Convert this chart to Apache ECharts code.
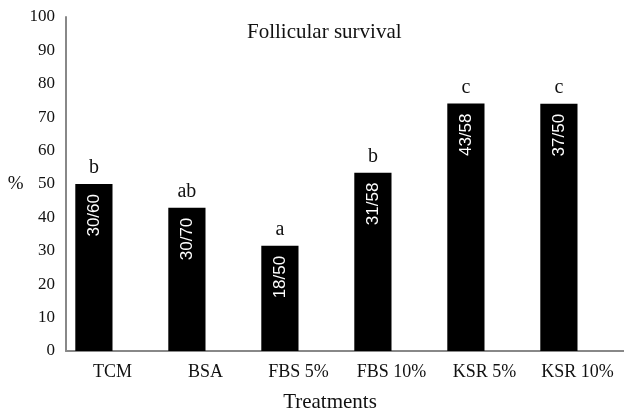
<!DOCTYPE html>
<html style="height: 100%">
<head>
  <meta charset="utf-8">
</head>
<body style="height: 100%; margin: 0">
  <div id="container" style="width: 624px; height: 414px"></div>
  <script src="https://cdn.jsdelivr.net/npm/echarts@6/dist/echarts.min.js"></script>
  <script type="text/javascript">
    // 数据
    var treatments = ['TCM', 'BSA', 'FBS 5%', 'FBS 10%', 'KSR 5%', 'KSR 10%'];
    var survival = [50, 42.9, 31.5, 53.4, 74.1, 74];
    var fractions = ['30/60', '30/70', '18/50', '31/58', '43/58', '37/50'];
    var letters = ['b', 'ab', 'a', 'b', 'c', 'c'];
    var yTicks = [0, 10, 20, 30, 40, 50, 60, 70, 80, 90, 100];

    var serif = 'Liberation Serif';
    var dom = document.getElementById('container');
    var myChart = echarts.init(dom);

    var option = {
      animation: false,
      title: {
        text: 'Follicular survival',
        left: 242,
        top: 17,
        textStyle: { fontFamily: serif, fontSize: 21, fontWeight: 'normal', color: '#111' }
      },
      grid: {
        left: 66,
        right: 0,
        top: 17,
        bottom: 63,
        outerBoundsMode: 'none'
      },
      xAxis: {
        type: 'category',
        data: treatments,
        axisLine: { lineStyle: { color: '#888', width: 2 } },
        axisTick: { show: false },
        axisLabel: { interval: 0, fontFamily: serif, fontSize: 18, color: '#111', margin: 12 },
        name: 'Treatments',
        nameLocation: 'middle',
        nameGap: 41,
        nameTextStyle: { fontFamily: serif, fontSize: 21, color: '#111', padding: [0, 30, 0, 0] }
      },
      yAxis: {
        type: 'value',
        min: yTicks[0],
        max: yTicks[yTicks.length - 1],
        interval: 10,
        splitLine: { show: false },
        axisLine: { show: true, lineStyle: { color: '#888', width: 2 } },
        axisTick: { show: false },
        axisLabel: { fontFamily: serif, fontSize: 17, color: '#111', margin: 11 },
        name: '%',
        nameLocation: 'middle',
        nameRotate: 0,
        nameGap: 42,
        nameTextStyle: { fontFamily: serif, fontSize: 19, color: '#111' }
      },
      series: [
        {
          type: 'bar',
          stack: 's',
          barGap: '0%',
          barCategoryGap: '20%',
          data: survival,
          itemStyle: { color: '#000' },
          label: {
            show: true,
            position: 'insideTop',
            distance: 10,
            rotate: 90,
            align: 'right',
            verticalAlign: 'middle',
            color: '#fff',
            fontFamily: 'Liberation Sans Narrow, Liberation Sans',
            fontSize: 17,
            formatter: function (p) { return fractions[p.dataIndex]; }
          }
        },
        {
          // 字母标注
          type: 'bar',
          stack: 's',
          data: survival.map(function () { return 0; }),
          itemStyle: { color: 'transparent' },
          label: {
            show: true,
            position: 'top',
            distance: 6,
            color: '#111',
            fontFamily: serif,
            fontSize: 20,
            formatter: function (p) { return letters[p.dataIndex]; }
          }
        },
        {
          // 空系列，占位
          type: 'bar',
          stack: 'empty',
          data: survival.map(function () { return 0; }),
          itemStyle: { color: 'transparent' }
        }
      ]
    };

    myChart.setOption(option);
  </script>
</body>
</html>
